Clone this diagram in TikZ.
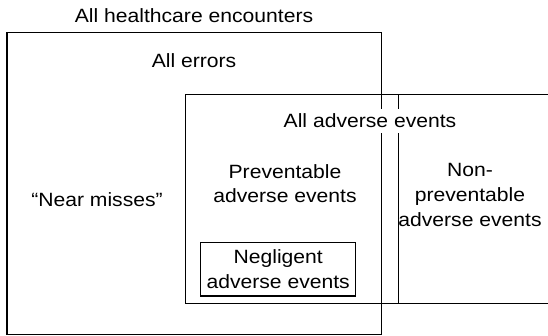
\documentclass[tikz,border=0pt]{standalone}
\usepackage{fontspec}
\setmainfont{Liberation Sans}[FakeStretch=1.1]
\tikzset{lbl/.style={inner sep=0pt, align=center, font=\fontsize{9.6}{12.3}\selectfont},
setbox/.style={draw, line width=0.55pt}}

\begin{document}
\begin{tikzpicture}[x=0.5pt,y=-0.5pt]
\useasboundingbox (0,0) rectangle (548,336);
\begin{scope}
\clip (0,0) rectangle (548,336);
\draw[setbox] (7,32.7) rectangle (381.7,334.3);
\draw[setbox] (185.7,94.3) rectangle (570,303.7);
\draw[setbox] (398.7,94.3) -- (398.7,303.7);
\end{scope}
\node[lbl] (enc) at (194,16) {All healthcare encounters};
\node[lbl] (err) at (194,61) {All errors};
\node[lbl, fill=white, inner ysep=2.5pt] (ae) at (370,121) {All adverse events};
\node[lbl] (near) at (97,200) {``Near misses''};
\node[lbl] (prev) at (285,183.5) {Preventable\\adverse events};
\node[lbl] (nonprev) at (470,195) {Non-\\preventable\\adverse events};
\node[lbl, setbox, minimum width=77.5pt, minimum height=26.85pt] (negl) at (278.2,269.2) {Negligent\\adverse events};
\end{tikzpicture}
\end{document}
